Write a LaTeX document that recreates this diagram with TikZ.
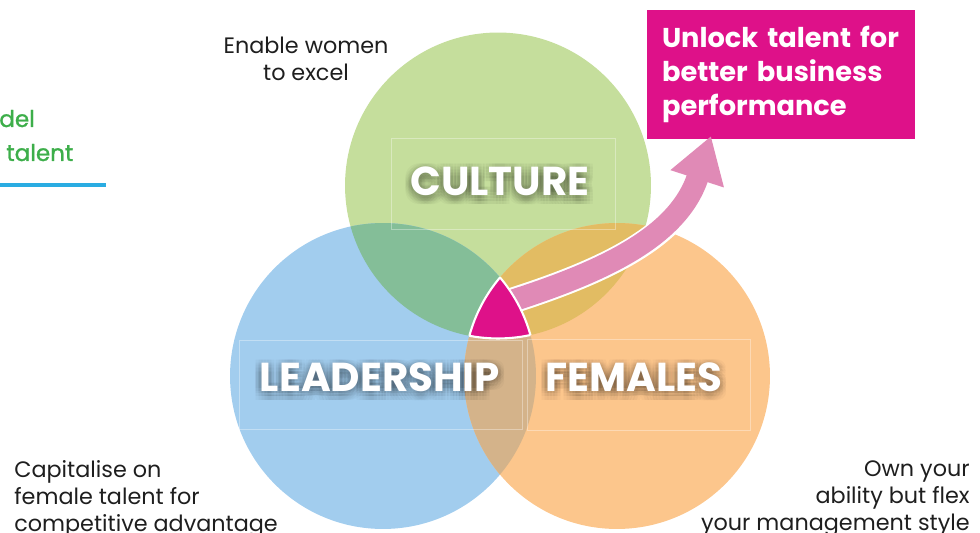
\documentclass[tikz,border=0pt]{standalone}
\usepackage{fontspec}
\setmainfont{Poppins}
\newfontfamily\modelfont{Poppins}[FakeBold=1.2]
\usetikzlibrary{arrows.meta,positioning}
\definecolor{culture_fill}{HTML}{C5DE9C}
\definecolor{leadership_fill}{HTML}{A2CDEE}
\definecolor{females_fill}{HTML}{FCC68C}
\definecolor{culture_leadership_fill}{HTML}{84BE98}
\definecolor{culture_females_fill}{HTML}{E2BC63}
\definecolor{leadership_females_fill}{HTML}{D4B38A}
\definecolor{core_fill}{HTML}{DE1189}
\definecolor{arrow_fill}{HTML}{E08AB6}
\definecolor{model_text}{HTML}{3DAE4A}
\definecolor{model_rule}{HTML}{2AACE2}
\definecolor{note_text}{HTML}{1E1E1E}
\tikzset{
circle_label/.style={text=white,font=\fontsize{23}{23}\selectfont\bfseries,anchor=base,inner sep=0pt},
circle_label_shadow/.style={circle_label,text=black,opacity=0.028},
label_frame/.style={draw=white,draw opacity=0.35,line width=0.5pt},
note/.style={text=note_text,font=\fontsize{12.7}{15.4}\selectfont,inner sep=0pt},
model_heading/.style={anchor=base west,inner sep=0pt,text=model_text,font=\fontsize{13.1}{15.4}\modelfont}
}
\tikzstyle{unlock_box} =[fill=core_fill,text=white,font=\fontsize{15.5}{19.6}\selectfont\bfseries,align=left,minimum width=5.36cm,minimum height=2.58cm,text width=4.76cm,inner xsep=0.3cm]
\tikzstyle{arrow_border} =[white,line width=0.52cm,shorten >=0.9cm]
\tikzstyle{arrow_body} =[arrow_fill,line width=0.44cm,-{Triangle[width=1.06cm,length=0.9cm]}]

\begin{document}
\begin{tikzpicture}[x=0.02cm,y=-0.02cm]
    \useasboundingbox (0,0) rectangle (980,533);

    % Circle centres
    \coordinate (culture_centre) at (498,185.5);
    \coordinate (leadership_centre) at (383,376);
    \coordinate (females_centre) at (617,376);

    % Circles and overlaps
    \fill[culture_fill] (culture_centre) circle (3.06cm);
    \fill[leadership_fill] (leadership_centre) circle (3.06cm);
    \fill[females_fill] (females_centre) circle (3.06cm);
    \begin{scope}
        \clip (culture_centre) circle (3.06cm);
        \fill[culture_leadership_fill] (leadership_centre) circle (3.06cm);
        \fill[culture_females_fill] (females_centre) circle (3.06cm);
    \end{scope}
    \begin{scope}
        \clip (leadership_centre) circle (3.06cm);
        \fill[leadership_females_fill] (females_centre) circle (3.06cm);
    \end{scope}

    % Label frames
    \draw[label_frame] (391,138) rectangle (615,229);
    \draw[label_frame] (239,340) rectangle (522,429);
    \draw[label_frame] (527,339) rectangle (750,430);

    % Unlock box and arrow
    \node[unlock_box] (unlock_box) at (781,74.5) {Unlock talent for\\better business\\performance};
    \coordinate (arrow_start) at (505,303);
    \coordinate (arrow_tip) at (711,136);
    \draw[arrow_border] (arrow_start) .. controls (600,273) and (678,238) .. (arrow_tip);
    \draw[arrow_body] (arrow_start) .. controls (600,273) and (678,238) .. (arrow_tip);

    % Core of the three circles
    \begin{scope}
        \clip (culture_centre) circle (3.06cm);
        \clip (leadership_centre) circle (3.06cm);
        \fill[core_fill] (females_centre) circle (3.06cm);
    \end{scope}
    \foreach \a/\b/\c in {culture/leadership/females,culture/females/leadership,leadership/females/culture}{
        \begin{scope}
            \clip (\a_centre) circle (3.06cm);
            \clip (\b_centre) circle (3.06cm);
            \draw[white,line width=1.2pt] (\c_centre) circle (3.06cm);
        \end{scope}
    }

    % Circle labels with soft shadow
    \foreach \name/\px/\py/\txt in {culture/500/196/CULTURE,leadership/380/391/LEADERSHIP,females/634/391/FEMALES}{
        \foreach \dx in {-6,-3,0,3,6}
            \foreach \dy in {-3,0,3,6,9}
                \node[circle_label_shadow] (\name_shadow_\dx_\dy) at (\px+\dx,\py+\dy) {\txt};
        \node[circle_label] (\name_label) at (\px,\py) {\txt};
    }

    % Notes
    \node[note,align=center,anchor=north] (enable_note) at (306,37) {Enable women\\to excel};
    \node[note,align=left,anchor=north west] (capitalise_note) at (14,460) {Capitalise on\\female talent for\\competitive advantage};
    \node[note,align=right,anchor=north east] (own_note) at (970,460) {Own your\\ability but flex\\your management style};

    % Model heading (cut off at the left)
    \node[model_heading] (model_line_one) at (-1,127) {del};
    \node[model_heading] (model_line_two) at (6,161) {talent};
    \draw[model_rule,line width=2.3pt] (0,185) -- (106,185);
\end{tikzpicture}
\end{document}
